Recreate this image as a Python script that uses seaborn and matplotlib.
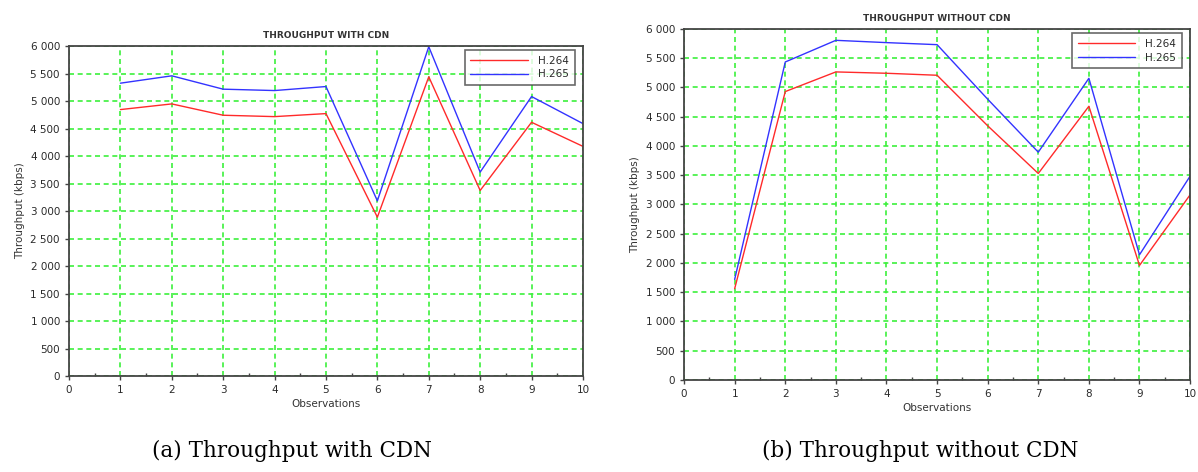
import numpy as np
import pandas as pd
import matplotlib
matplotlib.use('Agg')
import matplotlib.pyplot as plt
import matplotlib.ticker as mticker
import seaborn as sns

# Data
observations = [1, 2, 3, 4, 5, 6, 7, 8, 9, 10]
codecs = ['H.264', 'H.265']

with_cdn_h264 = [4845, 4948, 4742, 4717, 4772, 2888, 5441, 3374, 4614, 4176]
with_cdn_h265 = [5325, 5459, 5216, 5191, 5264, 3185, 5988, 3708, 5082, 4590]

without_cdn_h264 = [1560, 4930, 5266, 5243, 5209, 4345, 3530, 4679, 1958, 3165]
without_cdn_h265 = [1719, 5436, 5806, 5767, 5732, 4800, 3894, 5157, 2140, 3484]

panel_titles = ['THROUGHPUT WITH CDN', 'THROUGHPUT WITHOUT CDN']
captions = ['(a) Throughput with CDN', '(b) Throughput without CDN']


def to_long(h264, h265):
    return pd.DataFrame({
        'Observations': observations * 2,
        'Throughput': h264 + h265,
        'Codec': [codecs[0]] * len(h264) + [codecs[1]] * len(h265),
    })


sns.set_style('white')
plt.rcParams['font.family'] = ['DejaVu Sans']

fig = plt.figure(figsize=(11.98, 4.72), dpi=100)
ax_a = fig.add_axes([0.0576, 0.2034, 0.429, 0.699])
ax_b = fig.add_axes([0.571, 0.195, 0.4224, 0.7436])

palette = {'H.264': '#ff2a2a', 'H.265': '#3333ff'}
space_fmt = mticker.FuncFormatter(lambda v, p: f'{int(v):,}'.replace(',', ' '))

for ax, (h264, h265), title in zip(
        [ax_a, ax_b],
        [(with_cdn_h264, with_cdn_h265), (without_cdn_h264, without_cdn_h265)],
        panel_titles):
    df = to_long(h264, h265)
    sns.lineplot(data=df, x='Observations', y='Throughput', hue='Codec',
                 palette=palette, linewidth=1.0, ax=ax)
    ax.set_xlim(0, 10)
    ax.set_ylim(0, 6000)
    ax.set_xticks(range(0, 11))
    ax.set_yticks(range(0, 6001, 500))
    ax.xaxis.set_minor_locator(mticker.MultipleLocator(0.5))
    ax.yaxis.set_major_formatter(space_fmt)
    ax.grid(True, which='major', color='#3cf03c', linestyle=(0, (3, 2.2)), linewidth=1.2)
    ax.tick_params(axis='both', which='major', labelsize=7.5, length=3, width=1,
                   color='#444444', labelcolor='#2a2a2a', direction='out',
                   bottom=True, left=True)
    ax.tick_params(axis='x', which='minor', length=2, width=1, color='#444444',
                   direction='in', bottom=True)
    for side, sp in ax.spines.items():
        sp.set_color('#444444')
        sp.set_linewidth(1.3)
    ax.set_title(title, fontsize=6.5, fontweight='bold', color='#333333', pad=6)
    ax.set_xlabel('Observations', fontsize=7.5, color='#333333', labelpad=3)
    ax.set_ylabel('Throughput (kbps)', fontsize=7.5, color='#333333', labelpad=4)
    leg = ax.legend(loc='upper right', bbox_to_anchor=(0.984, 0.988), borderaxespad=0,
                    fontsize=7.5, frameon=True, fancybox=False, handlelength=5.5,
                    borderpad=0.55, labelspacing=0.35, handletextpad=1.0)
    leg.get_frame().set_edgecolor('#444444')
    leg.get_frame().set_linewidth(1.2)
    for t in leg.get_texts():
        t.set_color('#2a2a2a')

fig.text(292 / 1198, 1 - 451 / 472, captions[0], ha='center', va='center',
         fontsize=15.5, color='black', family=['DejaVu Serif'])
fig.text(920 / 1198, 1 - 451 / 472, captions[1], ha='center', va='center',
         fontsize=15.5, color='black', family=['DejaVu Serif'])

fig.savefig('out.png', dpi=100)
